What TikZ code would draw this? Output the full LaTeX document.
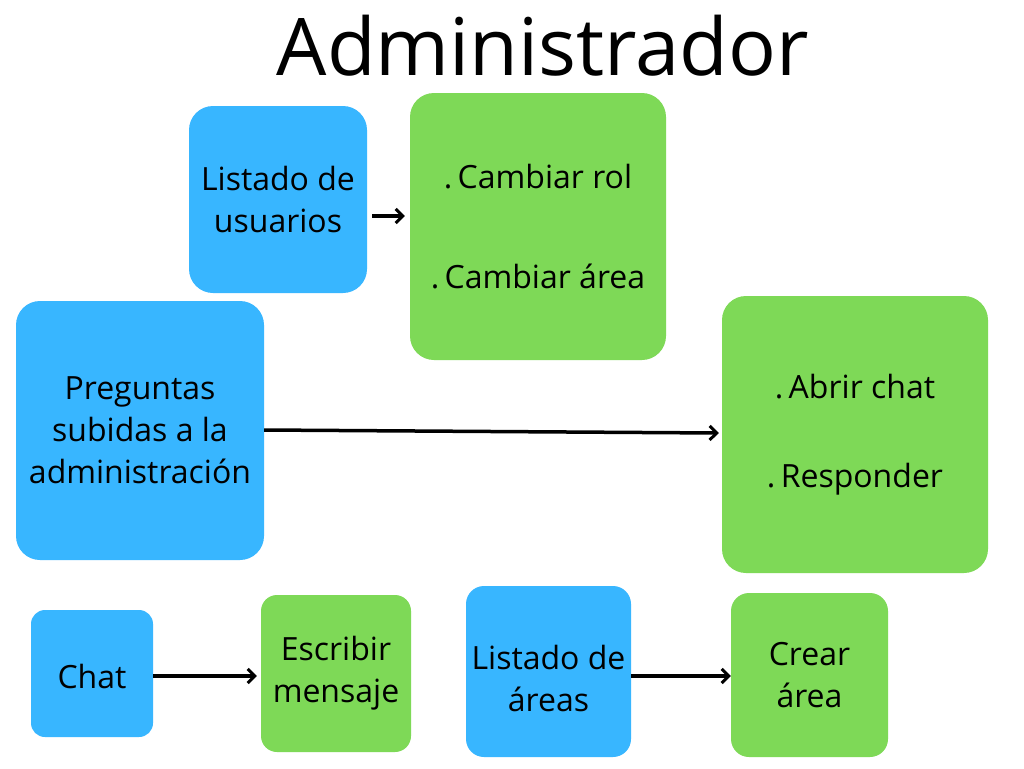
\documentclass[tikz,border=0pt]{standalone}
\usepackage{fontspec}
\setmainfont{Open Sans}
\usetikzlibrary{arrows.meta}
\definecolor{cblue}{HTML}{38B6FF}
\definecolor{cgreen}{HTML}{7ED957}
\tikzset{
  box/.style={rounded corners=24pt, inner sep=0pt, align=center,
    font=\fontsize{32}{42}\selectfont, text=black},
  bluebox/.style={box, fill=cblue},
  greenbox/.style={box, fill=cgreen},
  conn/.style={line width=3.5pt, -{Straight Barb[length=7pt,width=14pt,line width=3pt]}}
}
\begin{document}
\begin{tikzpicture}[x=1pt,y=-1pt]
\useasboundingbox[fill=white] (0,0) rectangle (1024,768);
\node[font=\fontsize{79.5}{90}\selectfont] (title) at (543,46) {Administrador};

\node[bluebox, minimum width=178pt, minimum height=187pt] (lu) at (278,199.5) {Listado de\\usuarios};
\node[greenbox, minimum width=256pt, minimum height=267pt] (cr) at (538,226.5) {.\,Cambiar rol\\[58pt].\,Cambiar área};
\node[bluebox, minimum width=248pt, minimum height=259pt] (pr) at (140,430.5) {Preguntas\\subidas a la\\administración};
\node[greenbox, minimum width=266pt, minimum height=277pt] (ab) at (855,434.5) {.\,Abrir chat\\[47pt].\,Responder};
\node[bluebox, minimum width=122pt, minimum height=127pt, rounded corners=14pt] (ch) at (92,673.5) {\rule{0pt}{31pt}Chat};
\node[greenbox, minimum width=150pt, minimum height=157pt, rounded corners=16pt] (es) at (336,673.5) {Escribir\\mensaje};
\node[bluebox, minimum width=165pt, minimum height=171pt, rounded corners=18pt] (la) at (548.5,671.5) {\rule{0pt}{39pt}Listado de\\áreas};
\node[greenbox, minimum width=157pt, minimum height=164pt, rounded corners=18pt] (ca) at (809.5,675) {Crear\\área};

\draw[conn] ([xshift=5pt]lu.east |- 0,216) -- ([xshift=-5pt]cr.west |- 0,216);
\draw[conn] (pr.east |- 0,430) -- ([xshift=-3pt]ab.west |- 0,433);
\draw[conn] (ch.east |- 0,676) -- ([xshift=-4pt]es.west |- 0,676);
\draw[conn] (la.east |- 0,676) -- (ca.west |- 0,676);
\end{tikzpicture}
\end{document}
